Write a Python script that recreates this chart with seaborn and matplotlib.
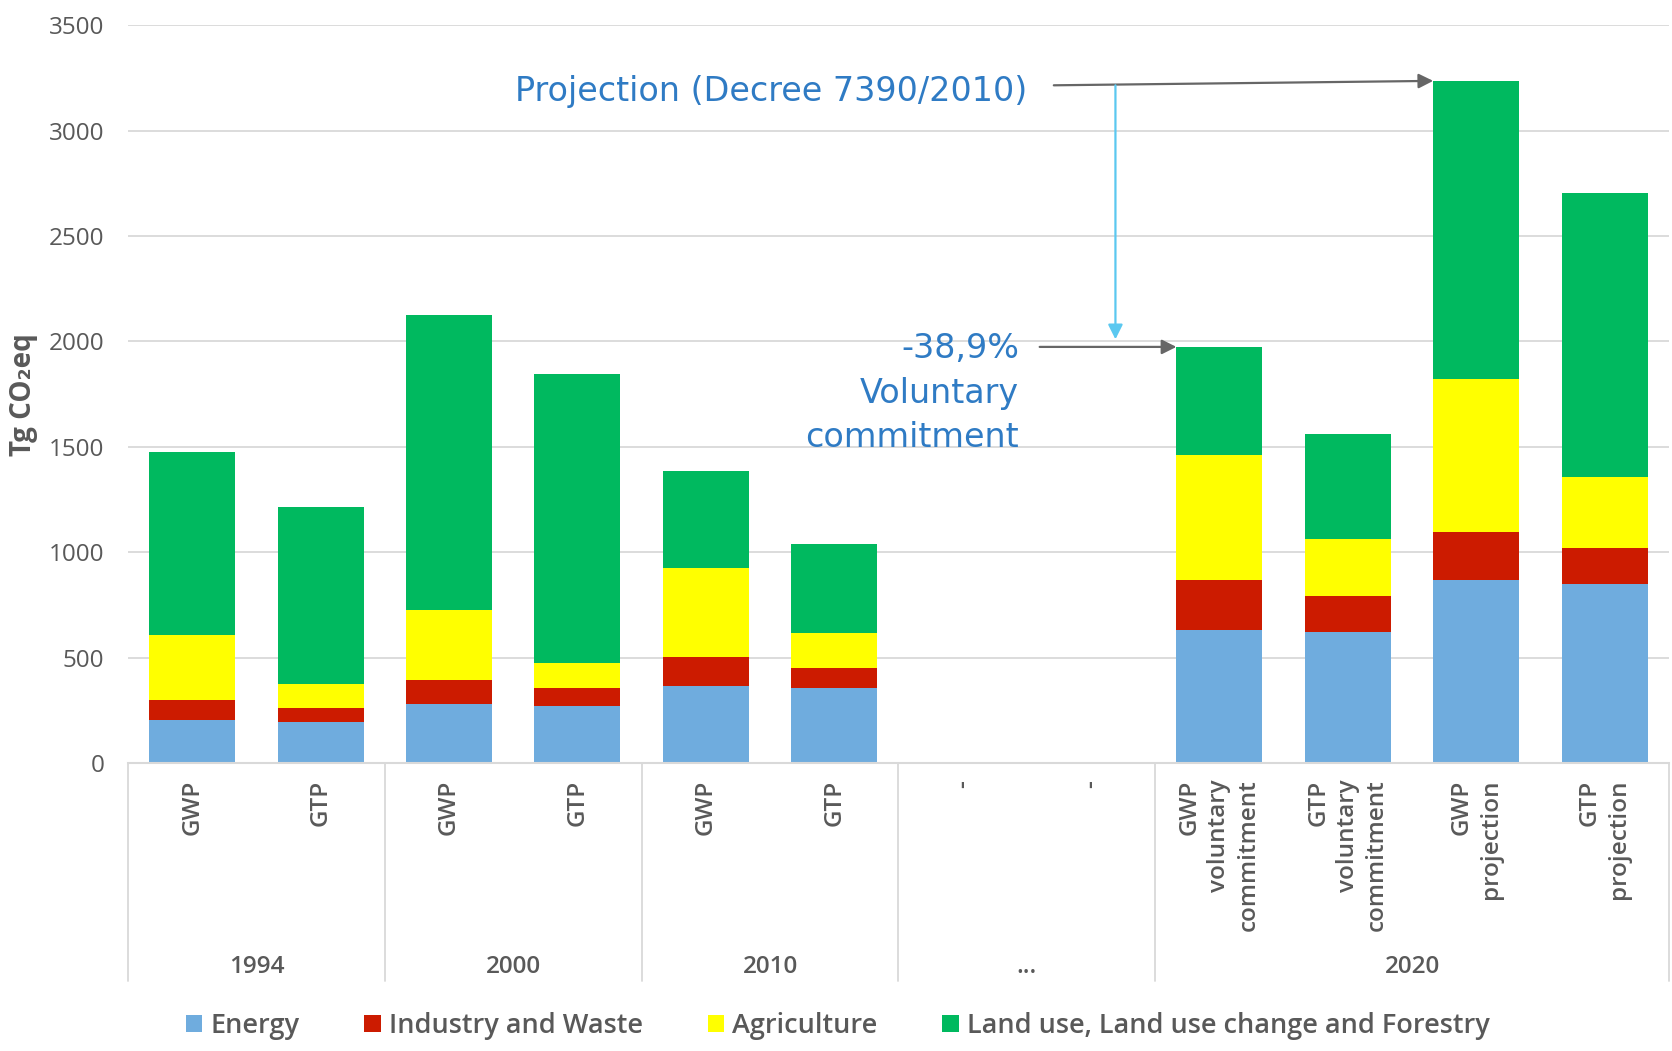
import numpy as np
import pandas as pd
import matplotlib
matplotlib.use("Agg")
import matplotlib.pyplot as plt
from matplotlib.patches import Patch
import seaborn as sns

# Emissions by sector, Tg CO2eq
slots = ["1994 GWP", "1994 GTP", "2000 GWP", "2000 GTP", "2010 GWP", "2010 GTP",
         "2020 GWP vol", "2020 GTP vol", "2020 GWP proj", "2020 GTP proj"]
energy = [205, 196, 281, 271, 366, 358, 630, 620, 868, 847]
industry = [95, 63, 115, 83, 139, 95, 236, 170, 226, 172]
agriculture = [306, 118, 330, 122, 420, 165, 596, 271, 729, 337]
lulucf = [868, 838, 1401, 1368, 462, 420, 512, 500, 1413, 1347]

# x axis: 12 slots, two empty ones under "..."
order = ["1994 GWP", "1994 GTP", "2000 GWP", "2000 GTP", "2010 GWP", "2010 GTP",
         "gap 1", "gap 2", "2020 GWP vol", "2020 GTP vol", "2020 GWP proj", "2020 GTP proj"]
tick_labels = ["GWP", "GTP", "GWP", "GTP", "GWP", "GTP", "-", "-",
               "GWP\nvoluntary\ncommitment", "GTP\nvoluntary\ncommitment",
               "GWP\nprojection", "GTP\nprojection"]
groups = ["1994", "2000", "2010", "...", "2020"]
group_sizes = [2, 2, 2, 2, 4]

sectors = ["Energy", "Industry and Waste", "Agriculture",
           "Land use, Land use change and Forestry"]
colors = ["#6FACDE", "#CC1B00", "#FFFF00", "#00B95F"]

df = pd.DataFrame({"slot": slots, "Energy": energy, "Industry and Waste": industry,
                   "Agriculture": agriculture,
                   "Land use, Land use change and Forestry": lulucf})
cum = df[sectors].cumsum(axis=1)

sns.set_style("white")
plt.rcParams["font.family"] = ["Open Sans", "DejaVu Sans"]
grey = "#595959"

fig = plt.figure(figsize=(16.72, 10.51), dpi=100)
ax = fig.add_axes([0.0766, 0.274, 0.9215, 0.702])

bar_w = 0.67
# stacked bars: draw cumulative totals from the top layer down
for sector, color in reversed(list(zip(sectors, colors))):
    sns.barplot(x=df["slot"], y=cum[sector], order=order, color=color,
                saturation=1, width=bar_w, errorbar=None, linewidth=0, ax=ax)

ax.set_ylim(0, 3500)
ax.set_xlim(-0.5, len(order) - 0.5)
ax.set_yticks(np.arange(0, 3501, 500))
ax.yaxis.grid(True, color="#D9D9D9", lw=1.3)
ax.set_axisbelow(True)
for side in ["top", "right", "left"]:
    ax.spines[side].set_visible(False)
ax.spines["bottom"].set_color("#D9D9D9")
ax.spines["bottom"].set_linewidth(1.5)

ax.set_xticks(range(len(order)))
ax.set_xticklabels(tick_labels, rotation=90, ha="center", va="top",
                   multialignment="right", fontsize=17.5, fontweight="semibold",
                   color=grey, linespacing=1.3)
ax.tick_params(axis="x", length=0, pad=12)
ax.tick_params(axis="y", length=0, pad=17, labelsize=17.5, labelcolor=grey)
ax.set_xlabel("")
ax.set_ylabel("Tg CO\u2082eq", fontsize=20, fontweight="bold", color=grey, labelpad=8)

# group labels and separators
trans = ax.get_xaxis_transform()
start = -0.5
ax.plot([start, start], [0, -0.296], transform=trans, color="#D9D9D9", lw=1.3, clip_on=False)
for name, size in zip(groups, group_sizes):
    end = start + size
    ax.plot([end, end], [0, -0.296], transform=trans, color="#D9D9D9", lw=1.3, clip_on=False)
    ax.text((start + end) / 2, -0.277, name, transform=trans, ha="center", va="center",
            fontsize=17.5, fontweight="semibold", color=grey)
    start = end

# annotations
blue = "#2F7BC4"
i_proj = order.index("2020 GWP proj")
i_vol = order.index("2020 GWP vol")
top_proj = cum.iloc[slots.index("2020 GWP proj")].iloc[-1]
top_vol = cum.iloc[slots.index("2020 GWP vol")].iloc[-1]

ax.text(6.5, 3141, "Projection (Decree 7390/2010)", ha="right", va="baseline",
        fontsize=24, color=blue, family="DejaVu Sans")
ax.annotate("", xy=(i_proj - bar_w / 2, top_proj), xytext=(6.71, 3215),
            arrowprops=dict(arrowstyle="-|>", color="#666666", lw=1.6,
                            mutation_scale=22, shrinkA=0, shrinkB=0))
ax.annotate("", xy=(7.19, 2010), xytext=(7.19, 3215),
            arrowprops=dict(arrowstyle="-|>", color="#5BC8F0", lw=1.6,
                            mutation_scale=22, shrinkA=0, shrinkB=0))
ax.annotate("", xy=(i_vol - bar_w / 2, top_vol), xytext=(6.6, top_vol),
            arrowprops=dict(arrowstyle="-|>", color="#666666", lw=1.6,
                            mutation_scale=22, shrinkA=0, shrinkB=0))
for txt, yb in zip(["-38,9%", "Voluntary", "commitment"], [1922, 1710, 1497]):
    ax.text(6.44, yb, txt, ha="right", va="baseline", fontsize=24, color=blue,
            family="DejaVu Sans")

handles = [Patch(facecolor=c, edgecolor="none") for c in colors]
fig.legend(handles, sectors, loc="center", bbox_to_anchor=(0.501, 0.024), ncol=4,
           frameon=False, handlelength=0.6, handleheight=0.6,
           handletextpad=0.3, columnspacing=2.4, labelcolor=grey,
           prop={"weight": "semibold", "size": 19.5})

fig.savefig("out.png", dpi=100)
